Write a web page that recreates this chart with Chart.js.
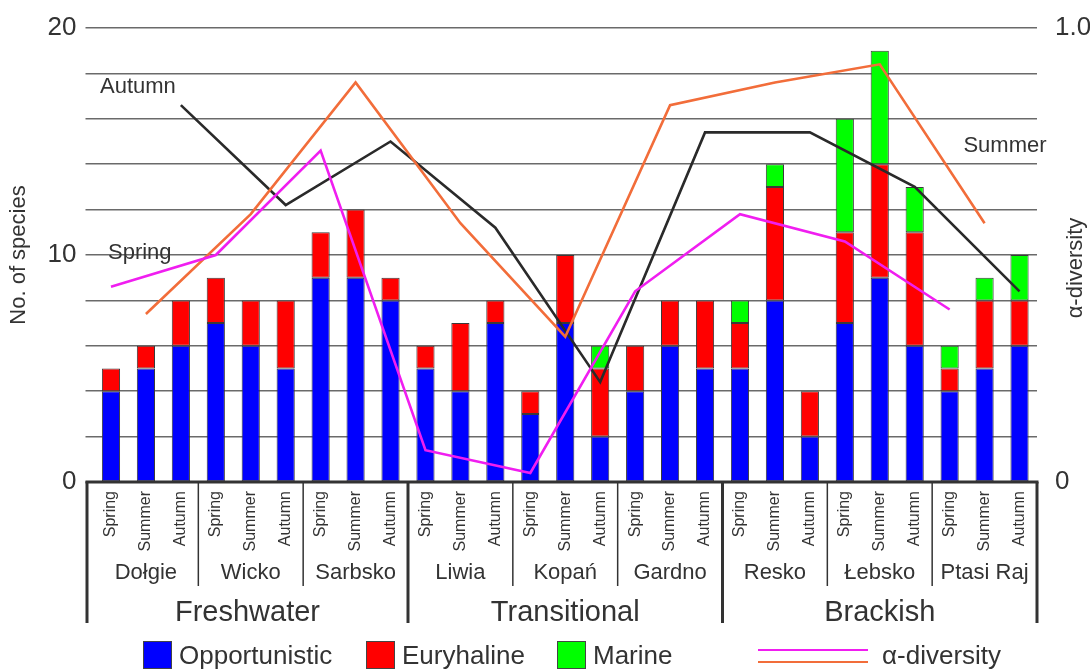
<!DOCTYPE html>
<html>
<head>
<meta charset="utf-8">
<script src="https://cdn.jsdelivr.net/npm/chart.js@4.4.1/dist/chart.umd.min.js"></script>
<style>
  body { margin: 0; background: #fff; }
  #wrap { position: relative; width: 1090px; height: 671px; font-family: 'Liberation Sans', Arial, sans-serif; color: #333; }
  .leg { position: absolute; top: 641px; height: 28px; display: flex; align-items: center; font-size: 26px; }
  .leg .sw { width: 27px; height: 26px; border: 1px solid #444; margin-right: 7px; }
  .leg .ln { width: 110px; height: 13px; position: relative; margin-right: 14px; }
  .leg .ln div { position: absolute; left: 0; right: 0; height: 2px; }
</style>
</head>
<body>
<div id="wrap">
  <canvas id="speciesChart" width="1090" height="671"></canvas>
  <div id="legend"></div>
</div>
<script>
const seasons = ['Spring', 'Summer', 'Autumn'];
const lakes = ['Dołgie', 'Wicko', 'Sarbsko', 'Liwia', 'Kopań', 'Gardno', 'Resko', 'Łebsko', 'Ptasi Raj'];
const groupNames = ['Freshwater', 'Transitional', 'Brackish'];
const lakesPerGroup = [3, 3, 3];

// species counts per lake x season (Spring, Summer, Autumn)
const opportunistic = [4, 5, 6,  7, 6, 5,  9, 9, 8,  5, 4, 7,  3, 7, 2,  4, 6, 5,  5, 8, 2,  7, 9, 6,  4, 5, 6];
const euryhaline    = [1, 1, 2,  2, 2, 3,  2, 3, 1,  1, 3, 1,  1, 3, 3,  2, 2, 3,  2, 5, 2,  4, 5, 5,  1, 3, 2];
const marine        = [0, 0, 0,  0, 0, 0,  0, 0, 0,  0, 0, 0,  0, 0, 1,  0, 0, 0,  1, 1, 0,  5, 5, 2,  1, 1, 2];

// alpha-diversity per lake, one list per season
const springAlpha = [0.43, 0.50, 0.73, 0.07, 0.02, 0.42, 0.59, 0.53, 0.38];
const summerAlpha = [0.37, 0.59, 0.88, 0.57, 0.32, 0.83, 0.88, 0.92, 0.57];
const autumnAlpha = [0.83, 0.61, 0.75, 0.56, 0.22, 0.77, 0.77, 0.65, 0.42];

const speciesTicks = [0, 10, 20];
const alphaTicks = [0, 1];

const FONT = "'Liberation Sans', Arial, sans-serif";
const TEXT = '#333';
const barColors = { opp: '#0000ff', eur: '#ff0000', mar: '#00ff00' };
const lineColors = { spring: '#f01ef0', summer: '#f26d3a', autumn: '#2a2a2a' };

const labels = lakes.flatMap(l => seasons.map(s => l + ' ' + s));

// put each lake's value on the bar of its own season, gaps elsewhere
function seasonSeries(values, seasonIdx) {
    const out = new Array(labels.length).fill(null);
    values.forEach((v, i) => { out[i * 3 + seasonIdx] = v; });
    return out;
}

const lineLabels = [
    { text: 'Autumn', index: 0, value: 17.4, dx: -11, align: 'left' },
    { text: 'Spring', index: 0, value: 10.1, dx: -3, align: 'left' },
    { text: 'Summer', index: 26, value: 14.8, dx: 27, align: 'right' }
];

const categoryBox = {
    id: 'categoryBox',
    afterDatasetsDraw(chart) {
        const { ctx, scales: { x, y } } = chart;
        ctx.save();
        ctx.fillStyle = TEXT;
        ctx.font = '22px ' + FONT;
        ctx.textBaseline = 'middle';
        lineLabels.forEach(l => {
            ctx.textAlign = l.align;
            ctx.fillText(l.text, x.getPixelForValue(l.index) + l.dx, y.getPixelForValue(l.value));
        });
        ctx.restore();
    },
    afterDraw(chart) {
        const { ctx, chartArea, scales: { x } } = chart;
        const step = x.getPixelForValue(1) - x.getPixelForValue(0);
        const edge = i => x.getPixelForValue(i) - step / 2;
        const bottom = chartArea.bottom;
        const left = chartArea.left - 6.5;
        const right = chartArea.right;

        ctx.save();
        ctx.fillStyle = TEXT;

        // season names, rotated
        ctx.font = '16px ' + FONT;
        ctx.textAlign = 'right';
        ctx.textBaseline = 'middle';
        labels.forEach((_, i) => {
            ctx.save();
            ctx.translate(x.getPixelForValue(i), bottom + 9);
            ctx.rotate(-Math.PI / 2);
            ctx.fillText(seasons[i % 3], 0, 0);
            ctx.restore();
        });

        // lake names
        ctx.font = '22px ' + FONT;
        ctx.textAlign = 'center';
        ctx.textBaseline = 'alphabetic';
        lakes.forEach((lake, i) => {
            ctx.fillText(lake, x.getPixelForValue(i * 3 + 1), bottom + 97);
        });

        // group names
        ctx.font = '29px ' + FONT;
        let start = 0;
        groupNames.forEach((g, gi) => {
            const n = lakesPerGroup[gi] * 3;
            const l = gi === 0 ? left : edge(start);
            const r = edge(start + n);
            ctx.fillText(g, (l + r) / 2, bottom + 139);
            start += n;
        });

        // box lines
        ctx.strokeStyle = '#333';
        ctx.lineWidth = 1.5;
        [3, 6, 12, 15, 21, 24].forEach(i => {
            ctx.beginPath();
            ctx.moveTo(edge(i), bottom);
            ctx.lineTo(edge(i), bottom + 104);
            ctx.stroke();
        });
        ctx.lineWidth = 3;
        [left, edge(9), edge(18), right].forEach(px => {
            ctx.beginPath();
            ctx.moveTo(px, bottom);
            ctx.lineTo(px, bottom + 141);
            ctx.stroke();
        });
        ctx.beginPath();
        ctx.moveTo(left - 1.5, bottom);
        ctx.lineTo(right + 1.5, bottom);
        ctx.stroke();

        // right axis title
        ctx.font = '22px ' + FONT;
        ctx.textBaseline = 'middle';
        ctx.translate(1076, (chartArea.top + chartArea.bottom) / 2 + 13);
        ctx.rotate(-Math.PI / 2);
        ctx.fillText('α-diversity', 0, 0);
        ctx.restore();
    }
};

const lineDefaults = { type: 'line', yAxisID: 'y1', borderWidth: 2.6, pointRadius: 0, tension: 0, spanGaps: true, order: 0, fill: false };
const barDefaults = { type: 'bar', yAxisID: 'y', borderColor: '#3a3a3a', borderWidth: 1, borderSkipped: false, barPercentage: 0.52, categoryPercentage: 1, order: 1 };

new Chart(document.getElementById('speciesChart'), {
    data: {
        labels: labels,
        datasets: [
            { ...lineDefaults, label: 'Spring', data: seasonSeries(springAlpha, 0), borderColor: lineColors.spring },
            { ...lineDefaults, label: 'Summer', data: seasonSeries(summerAlpha, 1), borderColor: lineColors.summer },
            { ...lineDefaults, label: 'Autumn', data: seasonSeries(autumnAlpha, 2), borderColor: lineColors.autumn },
            { ...barDefaults, label: 'Opportunistic', data: opportunistic, backgroundColor: barColors.opp },
            { ...barDefaults, label: 'Euryhaline', data: euryhaline.map(v => v || null), backgroundColor: barColors.eur },
            { ...barDefaults, label: 'Marine', data: marine.map(v => v || null), backgroundColor: barColors.mar }
        ]
    },
    options: {
        responsive: false,
        animation: false,
        layout: { padding: { top: 28, bottom: 189, left: 0, right: 0 } },
        plugins: { legend: { display: false }, tooltip: { enabled: false } },
        scales: {
            x: { display: false, stacked: true },
            y: {
                stacked: true,
                min: 0, max: 20,
                afterFit(scale) { scale.width = 93.5; },
                border: { display: false },
                grid: { color: '#6a6a6a', lineWidth: 1.5, tickLength: 8 },
                ticks: {
                    stepSize: 2,
                    padding: 9,
                    color: TEXT,
                    font: { family: FONT, size: 26 },
                    callback: v => speciesTicks.includes(v) ? v : ''
                },
                title: { display: true, text: 'No. of species', color: TEXT, font: { family: FONT, size: 22 }, padding: { top: 6 } }
            },
            y1: {
                position: 'right',
                min: 0, max: 1,
                afterFit(scale) { scale.width = 53; },
                border: { display: false },
                grid: { display: false },
                ticks: {
                    stepSize: 0.1,
                    padding: 10,
                    color: TEXT,
                    font: { family: FONT, size: 26 },
                    callback: v => alphaTicks.includes(v) ? (v === 1 ? '1.0' : '0') : ''
                }
            }
        }
    },
    plugins: [categoryBox]
});

// legend row
const legend = document.getElementById('legend');
[
    { text: 'Opportunistic', color: barColors.opp, left: 143 },
    { text: 'Euryhaline', color: barColors.eur, left: 366 },
    { text: 'Marine', color: barColors.mar, left: 557 }
].forEach(item => {
    const d = document.createElement('div');
    d.className = 'leg';
    d.style.left = item.left + 'px';
    d.innerHTML = `<div class="sw" style="background:${item.color}"></div><span>${item.text}</span>`;
    legend.appendChild(d);
});
const lineItem = document.createElement('div');
lineItem.className = 'leg';
lineItem.style.left = '758px';
lineItem.innerHTML = `<div class="ln"><div style="top:0;background:${lineColors.spring}"></div><div style="top:12px;background:${lineColors.summer}"></div></div><span>α-diversity</span>`;
legend.appendChild(lineItem);
</script>
</body>
</html>
